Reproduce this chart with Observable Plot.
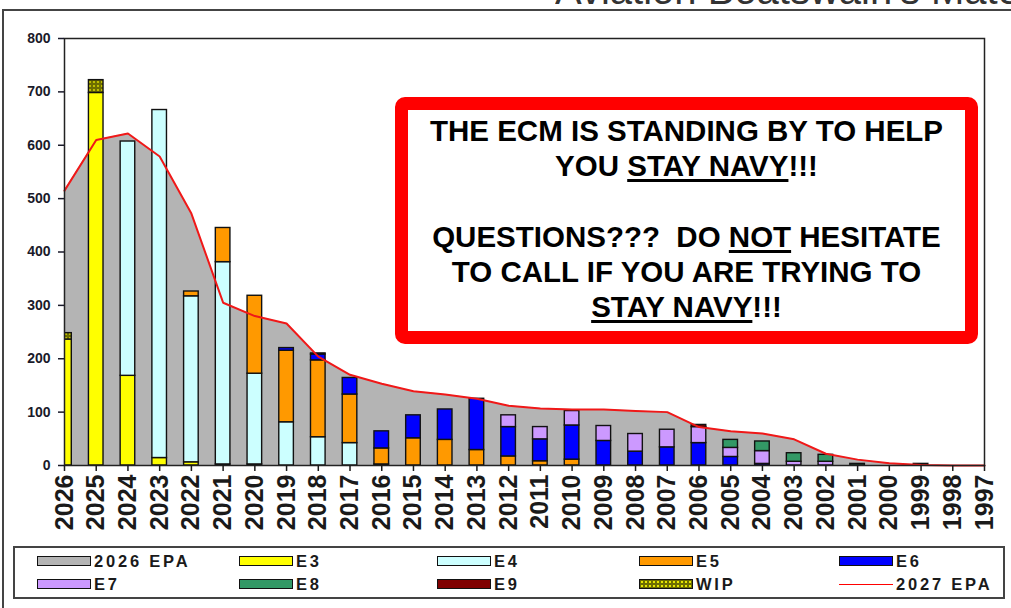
<!DOCTYPE html>
<html><head><meta charset="utf-8">
<script src="https://cdn.jsdelivr.net/npm/d3@7"></script>
<script src="https://cdn.jsdelivr.net/npm/@observablehq/plot@0.6"></script>
<style>
body{margin:0;background:#fff;font-family:"Liberation Sans",Arial,sans-serif;}
#wrap{position:relative;width:1011px;height:608px;overflow:hidden;background:#fff;}
#chart{position:absolute;left:0;top:0;}
.title{position:absolute;left:555px;top:0;width:456px;height:9px;overflow:hidden;}
.title span{position:absolute;left:0;top:-30px;font-size:40px;line-height:40px;color:#333;white-space:nowrap;}
.hline{position:absolute;left:3px;top:9px;width:1008px;height:2px;background:#444;}
.vline{position:absolute;left:2px;top:9px;width:2px;height:599px;background:#444;}
.redbox{position:absolute;left:395px;top:97px;width:583px;height:247px;box-sizing:border-box;border:13px solid #ff0000;border-radius:10px;background:#fff;text-align:center;font-weight:bold;font-size:29.5px;line-height:35.3px;color:#000;padding-top:3px;white-space:nowrap;}
.redbox u{text-decoration-thickness:3px;text-underline-offset:3px;}
.legend{position:absolute;left:13px;top:546px;width:992px;height:53px;box-sizing:border-box;border:2px solid #444;}
.item{position:absolute;height:20px;display:flex;align-items:center;font-weight:bold;font-size:16.5px;color:#1a1a1a;letter-spacing:2.8px;white-space:nowrap;}
.sw{width:52px;height:8px;border:1.5px solid #111;margin-right:3px;}
.ln{width:54px;height:0;border-top:1.5px solid #ff0000;margin-right:3px;}
</style></head><body>
<div id="wrap">
  <div id="chart"></div>
  <div class="title"><span>Aviation Boatswain's Mate</span></div>
  <div class="hline"></div>
  <div class="vline"></div>
  <div class="redbox">THE ECM IS STANDING BY TO HELP<br>YOU <u>STAY NAVY</u>!!!<br>&nbsp;<br>QUESTIONS???&nbsp; DO <u>NOT</u> HESITATE<br>TO CALL IF YOU ARE TRYING TO<br><u>STAY NAVY</u>!!!</div>
  <div class="legend" id="legend"></div>
</div>
<script>
const years = ["2026","2025","2024","2023","2022","2021","2020","2019","2018","2017","2016","2015","2014","2013","2012","2011","2010","2009","2008","2007","2006","2005","2004","2003","2002","2001","2000","1999","1998","1997"];
const yTicks = [0,100,200,300,400,500,600,700,800];
const epa2026 = [515,610,622,579,472,305,280,266,204,170,153,139,133,125,112,107,105,105,102,100,72,64,60,49,22,11,4,1,0,0];
const epa2027 = [515,610,622,579,472,305,280,266,204,170,153,139,133,125,112,107,105,105,102,100,72,64,60,49,22,11,4,1,0,0];
const E3  = [236,698,168,14,6,2,2,0,0,0,0,0,0,0,0,0,0,0,0,0,0,0,0,0,0,0,0,0,0,0];
const E4  = [0,0,439,652,311,379,170,81,53,42,2,0,0,0,0,0,0,0,0,0,0,0,0,0,0,0,0,0,0,0];
const E5  = [0,0,0,0,9,64,146,134,144,91,30,51,48,29,17,8,11,0,0,0,0,0,0,0,0,0,0,0,0,0];
const E6  = [0,0,0,0,0,0,0,5,11,31,32,43,57,96,55,41,64,46,26,34,42,16,3,0,0,0,0,0,0,0];
const E7  = [0,0,0,0,0,0,0,0,2,0,0,0,0,0,22,23,27,28,33,33,30,17,24,7,7,0,0,0,0,0];
const E8  = [0,0,0,0,0,0,0,0,0,0,0,0,0,0,0,0,0,0,0,0,0,15,18,16,13,3,0,3,0,0];
const E9  = [0,0,0,0,0,0,0,0,0,0,0,0,0,0,0,0,0,0,0,0,4,0,0,0,0,0,0,0,0,0];
const WIP = [12,24,0,0,0,0,0,0,0,0,0,0,0,0,0,0,0,0,0,0,0,0,0,0,0,0,0,0,0,0];
const seriesNames = ["E3","E4","E5","E6","E7","E8","E9","WIP"];
const legendLabels = ["2026 EPA","E3","E4","E5","E6","E7","E8","E9","WIP","2027 EPA"];

const seriesValues = {E3,E4,E5,E6,E7,E8,E9,WIP};
const colors = {E3:"#ffff00",E4:"#ccffff",E5:"#ff9900",E6:"#0000ff",E7:"#cc99ff",E8:"#339966",E9:"#800000",WIP:"url(#wipPat)"};

const idx = years.map((_, i) => i);
const cum = years.map(() => 0);
const rows = [];
for (const s of seriesNames) {
  seriesValues[s].forEach((v, i) => {
    if (v > 0) { rows.push({s, i, y1: cum[i], y2: cum[i] + v}); cum[i] += v; }
  });
}

const barMarks = seriesNames.map(s => Plot.rect(rows.filter(r => r.s === s), {
  x1: r => r.i - 0.23, x2: r => r.i + 0.23, y1: "y1", y2: "y2",
  fill: colors[s], stroke: "#111", strokeWidth: 1.4, clip: true
}));

const chart = Plot.plot({
  width: 1011, height: 608,
  marginLeft: 64, marginRight: 27, marginTop: 38, marginBottom: 143,
  style: {fontFamily: "Liberation Sans, Arial, sans-serif", background: "transparent", overflow: "visible"},
  x: {domain: [0, years.length - 1]},
  y: {domain: [0, 800]},
  marks: [
    Plot.areaY(idx, {x: i => i, y: i => epa2026[i], fill: "#b4b4b4"}),
    ...barMarks,
    Plot.line(idx, {x: i => i, y: i => epa2027[i], stroke: "#f01818", strokeWidth: 2}),
    Plot.frame({stroke: "#222", strokeWidth: 1.5}),
    Plot.axisY({ticks: yTicks, tickSize: 6, tickPadding: 8, fontSize: 14, fontWeight: "bold", color: "#1a1a2a", label: null, strokeWidth: 1.5}),
    Plot.axisX({ticks: idx, tickFormat: i => years[i], tickRotate: -90, tickSize: 6, tickPadding: 3, fontSize: 25, fontWeight: "bold", color: "#1a1a1a", label: null, strokeWidth: 1.5})
  ]
});

const defs = d3.select(chart).insert("defs", ":first-child");
const pat = defs.append("pattern").attr("id", "wipPat").attr("patternUnits", "userSpaceOnUse").attr("width", 4).attr("height", 4);
pat.append("rect").attr("width", 4).attr("height", 4).attr("fill", "#6e6e00");
pat.append("circle").attr("cx", 2).attr("cy", 2).attr("r", 0.9).attr("fill", "#e6e600");

document.getElementById("chart").appendChild(chart);

// legend
const legendStyle = {
  "2026 EPA": {bg: "#b4b4b4"}, "E3": {bg: "#ffff00"}, "E4": {bg: "#ccffff"}, "E5": {bg: "#ff9900"}, "E6": {bg: "#0000ff"},
  "E7": {bg: "#cc99ff"}, "E8": {bg: "#339966"}, "E9": {bg: "#800000"},
  "WIP": {bg: "#6e6e00 radial-gradient(circle, #e6e600 35%, transparent 40%) 0 0 / 4px 4px"},
  "2027 EPA": {line: true}
};
const colX = [22, 224, 422, 624, 824];
const rowY = [3, 26];
const leg = document.getElementById("legend");
legendLabels.forEach((lab, k) => {
  const item = document.createElement("div");
  item.className = "item";
  item.style.left = colX[k % 5] + "px";
  item.style.top = rowY[Math.floor(k / 5)] + "px";
  const st = legendStyle[lab];
  const sw = document.createElement("div");
  if (st.line) { sw.className = "ln"; } else { sw.className = "sw"; sw.style.background = st.bg; }
  item.appendChild(sw);
  const t = document.createElement("span");
  t.textContent = lab;
  item.appendChild(t);
  leg.appendChild(item);
});
</script>
</body></html>
